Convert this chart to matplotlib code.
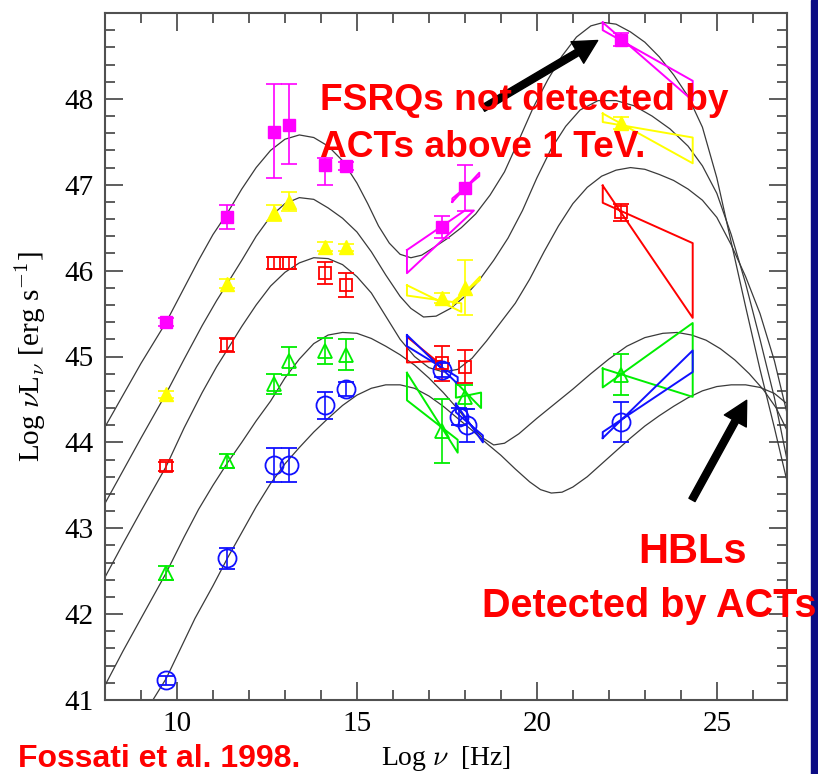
import matplotlib
matplotlib.use("Agg")
import matplotlib.pyplot as plt
from matplotlib.patches import Rectangle

plt.rcParams['font.family'] = 'serif'
plt.rcParams['font.serif'] = ['Liberation Serif', 'DejaVu Serif']
plt.rcParams['mathtext.fontset'] = 'cm'

''' Model SED curves, one per luminosity bin '''
mag_cx = [8.0, 8.5, 9.0, 9.7, 10.2, 10.6, 11.0, 11.4, 11.8, 12.2, 12.6, 13.0, 13.4, 13.8, 14.2,
          14.6, 15.0, 15.3, 15.6, 15.9, 16.2, 16.5, 16.8, 17.1, 17.5, 17.9, 18.3, 18.7, 19.1,
          19.5, 19.9, 20.3, 20.7, 21.1, 21.5, 21.85, 22.2, 22.6, 23.0, 23.4, 23.8, 24.2, 24.6,
          25.0, 25.4, 25.8, 26.2, 26.6, 26.95]
mag_cy = [44.18, 44.55, 44.92, 45.40, 45.80, 46.12, 46.42, 46.67, 46.95, 47.20, 47.40, 47.53,
          47.58, 47.55, 47.45, 47.28, 47.02, 46.78, 46.52, 46.32, 46.19, 46.15, 46.18, 46.26,
          46.37, 46.50, 46.66, 46.88, 47.15, 47.52, 47.90, 48.22, 48.50, 48.72, 48.85, 48.89,
          48.87, 48.78, 48.66, 48.49, 48.28, 48.03, 47.67, 47.08, 46.33, 45.58, 44.85, 44.17,
          43.55]

yel_cx = [8.0, 8.5, 9.0, 9.7, 10.2, 10.7, 11.1, 11.4, 11.8, 12.2, 12.6, 13.0, 13.4, 13.8, 14.2,
          14.6, 15.0, 15.4, 15.8, 16.2, 16.5, 16.85, 17.2, 17.6, 18.0, 18.4, 18.8, 19.2, 19.6,
          20.0, 20.4, 20.8, 21.2, 21.7, 22.2, 22.7, 23.2, 23.7, 24.2, 24.6, 25.0, 25.4, 25.8,
          26.2, 26.6, 26.95]
yel_cy = [43.29, 43.67, 44.05, 44.57, 44.97, 45.36, 45.65, 45.85, 46.12, 46.40, 46.63, 46.78,
          46.85, 46.83, 46.73, 46.61, 46.45, 46.22, 45.95, 45.70, 45.56, 45.46, 45.47, 45.56,
          45.70, 45.89, 46.12, 46.38, 46.70, 47.08, 47.42, 47.68, 47.87, 47.98, 47.98, 47.92,
          47.80, 47.65, 47.45, 47.22, 46.90, 46.42, 45.85, 45.20, 44.52, 43.80]

red_cx = [8.0, 8.5, 9.0, 9.7, 10.2, 10.7, 11.1, 11.4, 11.8, 12.2, 12.6, 13.0, 13.4, 13.8, 14.2,
          14.6, 15.0, 15.4, 15.8, 16.2, 16.6, 17.0, 17.4, 17.8, 18.2, 18.6, 19.0, 19.4, 19.8,
          20.2, 20.6, 21.0, 21.4, 21.8, 22.2, 22.6, 23.0, 23.4, 23.8, 24.2, 24.6, 25.0, 25.4,
          25.8, 26.2, 26.6, 26.95]
red_cy = [42.43, 42.82, 43.20, 43.72, 44.17, 44.58, 44.88, 45.08, 45.35, 45.60, 45.82, 45.98,
          46.09, 46.15, 46.14, 46.07, 45.93, 45.74, 45.47, 45.20, 45.00, 44.87, 44.82, 44.85,
          44.98, 45.18, 45.40, 45.62, 45.90, 46.22, 46.52, 46.78, 46.97, 47.10, 47.17, 47.20,
          47.18, 47.12, 47.05, 46.95, 46.82, 46.62, 46.30, 45.93, 45.50, 44.95, 44.34]

grn_cx = [8.0, 8.5, 9.0, 9.7, 10.2, 10.6, 11.0, 11.4, 11.8, 12.2, 12.6, 13.0, 13.4, 13.8, 14.2,
          14.6, 15.0, 15.4, 15.8, 16.2, 16.6, 17.0, 17.4, 17.8, 18.2, 18.5, 18.8, 19.1, 19.5,
          20.0, 20.5, 21.0, 21.5, 22.0, 22.5, 23.0, 23.5, 23.9, 24.3, 24.7, 25.1, 25.5, 25.9,
          26.3, 26.65, 26.95]
grn_cy = [41.17, 41.57, 41.95, 42.48, 42.90, 43.22, 43.50, 43.76, 44.00, 44.25, 44.48, 44.75,
          44.97, 45.15, 45.25, 45.28, 45.27, 45.21, 45.12, 45.02, 44.90, 44.75, 44.58, 44.39,
          44.18, 44.05, 43.97, 43.99, 44.10, 44.28, 44.45, 44.62, 44.80, 44.97, 45.12, 45.22,
          45.27, 45.28, 45.25, 45.19, 45.09, 44.96, 44.80, 44.61, 44.40, 44.14]

blu_cx = [9.33, 9.7, 10.1, 10.5, 11.0, 11.4, 11.8, 12.2, 12.6, 13.0, 13.4, 13.8, 14.2, 14.6,
          15.0, 15.4, 15.8, 16.2, 16.6, 17.0, 17.4, 17.8, 18.2, 18.6, 19.0, 19.4, 19.8, 20.1,
          20.4, 20.7, 21.0, 21.4, 21.8, 22.2, 22.6, 23.0, 23.4, 23.8, 24.2, 24.6, 25.0, 25.4,
          25.8, 26.2, 26.6, 26.95]
blu_cy = [41.0, 41.25, 41.60, 41.95, 42.33, 42.65, 42.95, 43.25, 43.52, 43.75, 43.94, 44.12,
          44.28, 44.43, 44.55, 44.63, 44.67, 44.67, 44.63, 44.54, 44.42, 44.28, 44.14, 43.99,
          43.85, 43.69, 43.54, 43.45, 43.41, 43.42, 43.48, 43.60, 43.75, 43.90, 44.05, 44.19,
          44.31, 44.42, 44.52, 44.60, 44.65, 44.67, 44.67, 44.64, 44.57, 44.45]

''' Averaged data points (log nu, log nuL_nu, error) '''
mag_x = [9.7, 11.4, 12.7, 13.1, 14.1, 14.7, 17.35, 18.0, 22.35]
mag_y = [45.40, 46.63, 47.61, 47.70, 47.23, 47.22, 46.51, 46.96, 48.69]
mag_lo = [0.05, 0.14, 0.53, 0.46, 0.23, 0.05, 0.13, 0.27, 0.08]
mag_hi = [0.05, 0.14, 0.56, 0.47, 0.08, 0.05, 0.13, 0.27, 0.08]

yel_x = [9.7, 11.4, 12.7, 13.1, 14.1, 14.7, 17.35, 18.0, 22.35]
yel_y = [44.56, 45.85, 46.67, 46.80, 46.28, 46.27, 45.68, 45.80, 47.72]
yel_err = [0.04, 0.05, 0.09, 0.11, 0.05, 0.04, 0.06, 0.32, 0.07]

red_x = [9.7, 11.4, 12.7, 13.1, 14.1, 14.7, 17.35, 18.0, 22.35]
red_y = [43.72, 45.13, 46.09, 46.09, 45.97, 45.83, 44.92, 44.88, 46.68]
red_err = [0.05, 0.08, 0.07, 0.07, 0.13, 0.14, 0.20, 0.19, 0.10]

grn_x = [9.7, 11.4, 12.7, 13.1, 14.1, 14.7, 17.35, 18.0, 22.35]
grn_y = [42.48, 43.78, 44.68, 44.95, 45.06, 45.02, 44.13, 44.53, 44.79]
grn_err = [0.08, 0.08, 0.12, 0.16, 0.15, 0.18, 0.37, 0.14, 0.24]

blu_x = [9.7, 11.4, 12.7, 13.1, 14.1, 14.7, 17.35, 17.85, 18.05, 22.35]
blu_y = [41.23, 42.65, 43.74, 43.74, 44.43, 44.62, 44.84, 44.30, 44.20, 44.24]
blu_err = [0.05, 0.12, 0.20, 0.20, 0.16, 0.08, 0.08, 0.10, 0.19, 0.23]

''' Spectral "bow ties": x-ray and gamma-ray slopes '''
mag_bows = [([16.39, 18.0, 18.25, 16.39], [46.24, 46.70, 46.70, 45.97]),
            ([17.65, 18.4, 18.4, 17.65], [46.80, 47.14, 47.10, 46.84]),
            ([21.83, 24.33, 24.33, 21.83], [48.89, 47.98, 48.21, 48.80])]
yel_bows = [([16.39, 17.9, 17.9, 16.39], [45.83, 45.52, 45.62, 45.71]),
            ([17.67, 18.42, 18.42, 17.67], [45.60, 45.93, 45.89, 45.64]),
            ([21.83, 24.33, 24.33, 21.83], [47.83, 47.25, 47.55, 47.73])]
red_bows = [([16.39, 17.35, 17.35, 16.39], [45.23, 44.90, 44.95, 44.93]),
            ([21.83, 24.33, 24.33, 21.83], [46.99, 45.45, 46.32, 46.79])]
grn_bows = [([16.39, 17.8, 17.8, 16.39], [44.81, 43.88, 44.03, 44.49]),
            ([17.75, 18.45, 18.45, 17.75], [44.70, 44.40, 44.58, 44.52]),
            ([21.83, 24.33, 24.33, 21.83], [44.86, 44.53, 45.39, 44.64])]
blu_bows = [([16.39, 17.8, 17.8, 16.39], [45.25, 44.68, 44.76, 45.12]),
            ([17.75, 18.5, 18.5, 17.75], [44.45, 44.00, 44.08, 44.35]),
            ([21.83, 24.33, 24.33, 21.83], [44.05, 45.07, 44.82, 44.12])]

fig = plt.figure(figsize=(8.18, 7.74), dpi=100)
ax = fig.add_axes([105 / 818, 74 / 774, 682 / 818, 687 / 774])

# model curves
for cx, cy in [(mag_cx, mag_cy), (yel_cx, yel_cy), (red_cx, red_cy),
               (grn_cx, grn_cy), (blu_cx, blu_cy)]:
    ax.plot(cx, cy, color="#3a3a3a", lw=0.9, zorder=2)

# bow ties
for bows, col in [(mag_bows, "#ff00ff"), (yel_bows, "#ffff00"), (red_bows, "#ff0000"),
                  (grn_bows, "#00ee00"), (blu_bows, "#1010ff")]:
    for bx, by in bows:
        ax.plot(bx + [bx[0]], by + [by[0]], color=col, lw=1.4, zorder=3)

# data points with error bars
ax.errorbar(mag_x, mag_y, yerr=[mag_lo, mag_hi], fmt="s", ms=9, color="#ff00ff",
            mfc="#ff00ff", elinewidth=1.2, capsize=6, capthick=1.2, zorder=4)
ax.errorbar(yel_x, yel_y, yerr=yel_err, fmt="^", ms=10, color="#ffff00",
            mfc="#ffff00", elinewidth=1.2, capsize=6, capthick=1.2, zorder=4)
ax.errorbar(red_x, red_y, yerr=red_err, fmt="s", ms=9, color="#ff0000",
            mfc="none", mew=1.3, elinewidth=1.2, capsize=6, capthick=1.2, zorder=4)
ax.errorbar(grn_x, grn_y, yerr=grn_err, fmt="^", ms=10, color="#00ee00",
            mfc="none", mew=1.3, elinewidth=1.2, capsize=6, capthick=1.2, zorder=4)
ax.errorbar(blu_x, blu_y, yerr=blu_err, fmt="o", ms=13, color="#1010ff",
            mfc="none", mew=1.3, elinewidth=1.2, capsize=6, capthick=1.2, zorder=4)

# axes, ticks on all four sides pointing in
ax.set_xlim(8, 26.95)
ax.set_ylim(41, 49)
ax.set_xticks([10, 15, 20, 25])
ax.set_xticks(range(9, 27), minor=True)
ax.set_yticks(range(41, 49))
ax.set_yticks([41 + 0.2 * i for i in range(41)], minor=True)
ax.tick_params(which="both", direction="in", top=True, right=True, color="#505050",
               width=1.3, labelsize=21)
ax.tick_params(which="major", length=13, pad=8)
ax.tick_params(which="minor", length=7.5)
for sp in ax.spines.values():
    sp.set_color("#505050")
    sp.set_linewidth(1.5)

ax.set_xlabel(r"Log $\nu$  [Hz]", fontsize=20)
ax.set_ylabel(r"Log $\nu$L$_\nu$ [erg s$^{-1}$]", fontsize=21)
ax.xaxis.set_label_coords(0.5, -0.064)
ax.yaxis.set_label_coords(-0.083, 0.5)

# annotations
ax.annotate("", xy=(21.69, 48.68), xytext=(18.5, 47.89),
            arrowprops=dict(facecolor="black", edgecolor="black", width=5,
                            headwidth=18, headlength=17, shrink=0), zorder=6,
            annotation_clip=False)
ax.annotate("", xy=(25.83, 44.49), xytext=(24.31, 43.33),
            arrowprops=dict(facecolor="black", edgecolor="black", width=5,
                            headwidth=18, headlength=17, shrink=0), zorder=6)

sans = ["Liberation Sans", "DejaVu Sans"]
fig.text(320 / 818, 1 - 110 / 774, "FSRQs not detected by", color="red", fontsize=26.7,
         fontweight="bold", family=sans, va="baseline", zorder=5)
fig.text(320 / 818, 1 - 157 / 774, "ACTs above 1 TeV.", color="red", fontsize=26.7,
         fontweight="bold", family=sans, va="baseline", zorder=5)
fig.text(693 / 818, 1 - 563 / 774, "HBLs", color="red", fontsize=30,
         fontweight="bold", family=sans, va="baseline", ha="center", zorder=5)
fig.text(816 / 818, 1 - 617 / 774, "Detected by ACTs", color="red", fontsize=28.5,
         fontweight="bold", family=sans, va="baseline", ha="right", zorder=5)
fig.text(18 / 818, 1 - 767 / 774, "Fossati et al. 1998.", color="red", fontsize=23,
         fontweight="bold", family=sans, va="baseline", zorder=5)

# navy band on the right edge
fig.patches.append(Rectangle((811 / 818, 0), 7 / 818, 1, transform=fig.transFigure,
                             color="#0c0c84", zorder=0))

fig.savefig("out.png", dpi=100)
